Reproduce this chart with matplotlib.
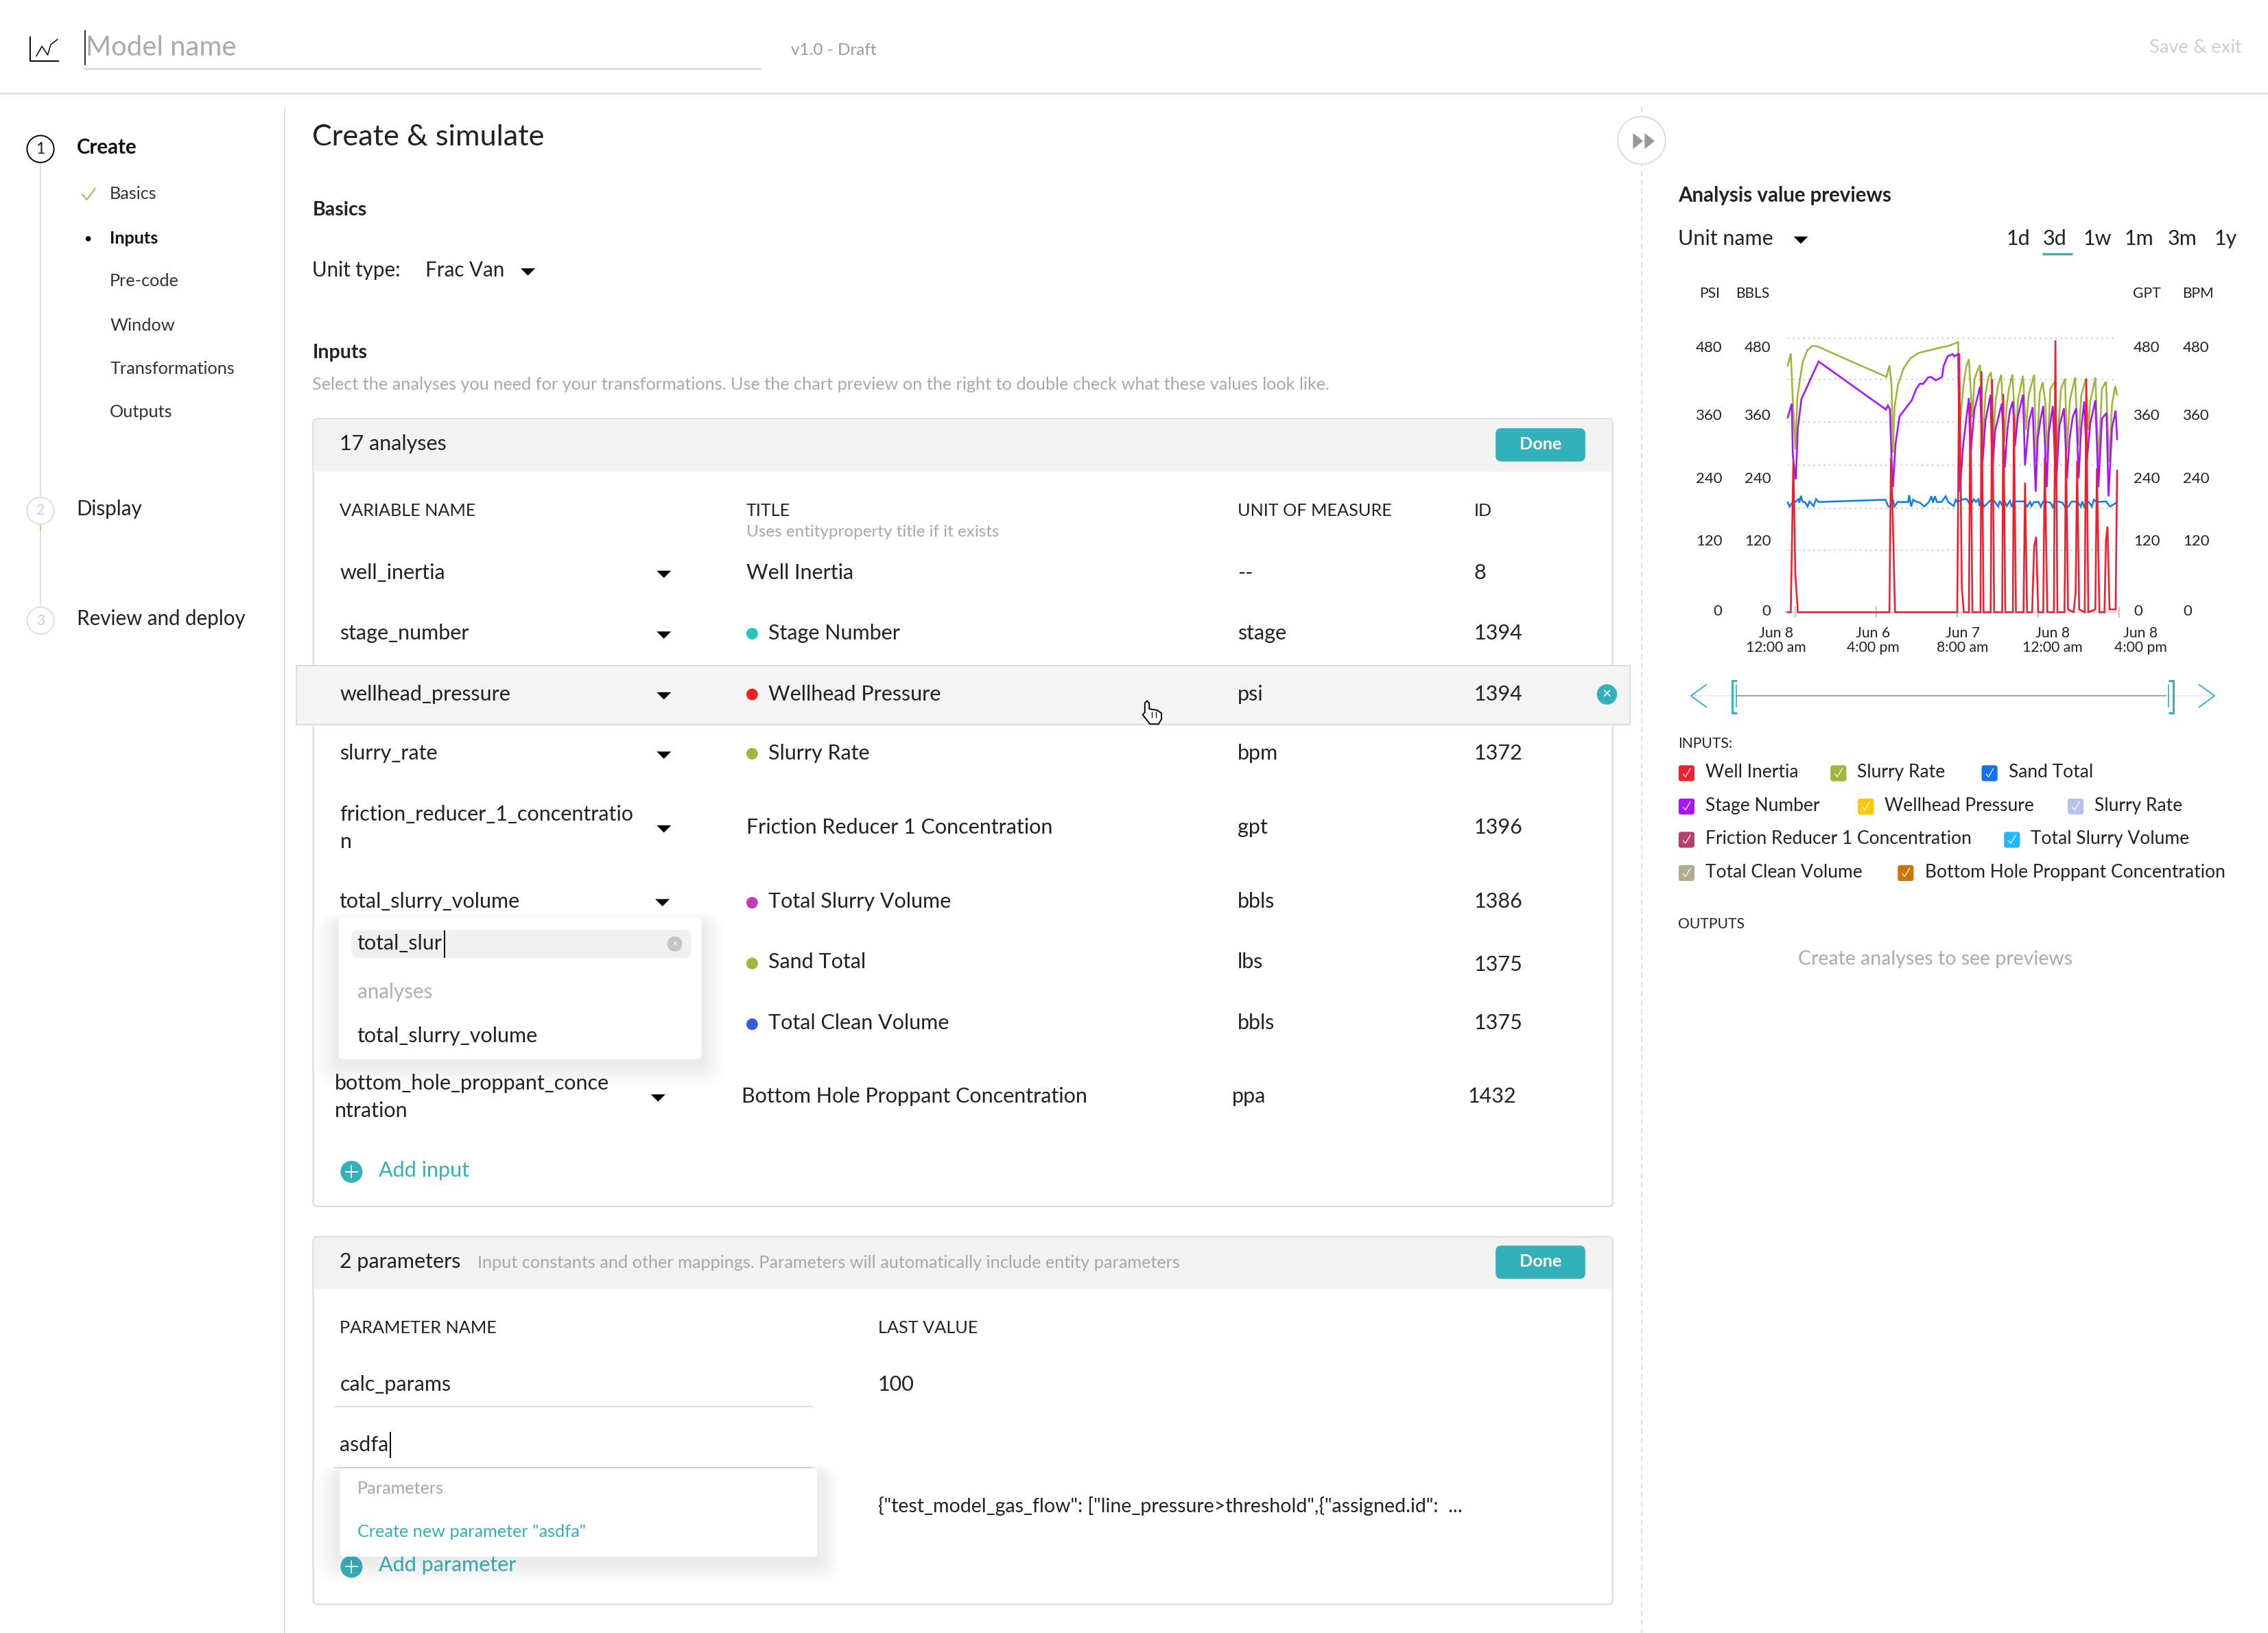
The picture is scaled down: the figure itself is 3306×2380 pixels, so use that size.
import matplotlib
matplotlib.use("Agg")
import matplotlib.pyplot as plt
from matplotlib.patches import FancyBboxPatch, Circle, Polygon, Rectangle
from matplotlib.transforms import Affine2D

plt.rcParams['font.family'] = ['Lato', 'DejaVu Sans']

# ---------- chart data (x = hours since first tick, y = chart units) ----------
slurry_h = [-1.5,-0.9,-0.6,0.0,0.4,0.9,1.5,2.4,3.3,4.2,18.0,18.6,19.0,19.3,19.6,20.3,21.4,22.8,24.4,28.0,30.2,32.2,
 32.4,33.2,33.8,34.3,35.0,35.4,35.9,36.5,37.0,37.6,38.2,38.7,39.1,39.6,40.0,40.7,41.3,41.8,42.2,42.9,43.6,44.0,44.5,45.0,
 45.6,46.1,47.2,47.6,48.3,48.9,49.4,49.8,50.4,51.3,51.7,52.5,53.3,53.7,54.3,55.3,55.9,56.5,57.4,57.9,58.3,59.3,59.9,60.6,
 61.4,62.0,62.6,63.2,63.6]
slurry_v = [432,453,391,285,375,407,439,459,466,466,412,432,399,279,359,399,427,445,454,462,466,473,
 311,395,431,443,341,407,421,433,297,383,413,420,301,371,395,416,299,363,391,416,307,371,393,414,
 319,379,416,263,383,403,367,271,391,404,283,391,409,287,373,411,291,379,409,319,369,411,259,391,
 404,263,363,396,381]

stage_h = [-1.5,-0.7,-0.5,0.0,0.1,0.5,1.2,4.6,17.9,18.3,18.7,19.0,19.3,19.8,20.6,23.0,23.9,24.6,25.3,26.2,26.8,27.8,29.0,29.3,30.1,31.1,31.4,32.2,
 32.5,33.2,33.8,34.3,34.6,35.4,36.5,37.0,37.6,38.6,38.9,39.5,40.8,41.4,41.9,42.4,43.0,43.4,44.0,45.0,45.4,46.2,46.9,47.5,47.9,48.4,49.0,49.7,
 50.1,50.9,51.5,52.2,53.1,53.7,54.2,54.8,55.5,56.0,56.5,57.1,57.6,58.3,59.3,59.9,60.6,61.5,61.9,62.6,63.3,63.6]
stage_v = [341,365,275,237,233,323,373,439,355,362,355,271,219,295,343,371,391,400,400,411,412,406,412,431,448,452,448,452,
 211,295,339,375,273,355,395,263,337,381,243,319,365,253,319,353,369,291,343,381,257,335,359,211,303,335,361,219,
 315,361,219,327,357,235,303,341,357,235,323,369,263,331,371,219,339,349,203,323,353,303]

sand_h = [-1.5,-1.1,-0.7,0.0,0.6,0.8,1.1,1.4,2.0,2.4,2.8,3.6,4.1,4.6,17.8,18.4,18.7,19.3,19.6,20.2,22.3,22.5,22.9,23.3,24.0,24.6,25.5,26.4,26.9,27.2,27.6,28.0,28.9,29.7,30.2,31.3,31.7,
 32.0,33.2,33.9,34.3,34.6,35.3,35.7,36.2,36.4,36.8,37.3,38.6,39.3,40.1,40.4,41.0,41.3,41.8,42.4,42.8,43.1,45.2,45.8,46.4,46.7,47.2,48.1,48.5,49.0,49.7,50.4,50.9,51.3,51.9,52.8,53.3,54.0,54.6,55.8,56.4,56.7,57.1,57.6,58.0,58.6,59.0,59.6,61.4,62.2,63.5]
sand_v = [192,185,191,193,198,192,204,194,192,185,194,186,198,193,197,185,185,197,185,193,193,205,185,197,193,192,185,193,203,192,203,193,193,203,193,186,197,
 193,198,198,192,187,198,193,198,186,197,185,196,195,185,195,185,195,186,195,184,194,194,185,193,186,193,193,185,194,193,192,184,194,194,192,184,185,194,193,185,194,185,193,193,185,197,193,194,185,192]

inertia_h = [-1.5,-0.9,-0.4,0.0,0.5,18.6,18.9,19.2,19.7,32.0,32.4,32.9,33.3,34.3,34.6,35.0,36.6,36.8,37.2,38.6,38.9,39.3,40.9,41.1,41.5,43.0,43.2,43.6,45.1,45.4,45.8,46.8,47.2,47.6,48.0,
 49.0,49.3,49.8,51.1,51.4,51.8,53.2,53.5,53.9,55.0,55.4,55.7,56.1,57.2,57.5,57.9,59.3,59.6,60.1,61.1,61.4,61.7,62.1,63.3,63.6]
inertia_v = [0,0,265,67,0,0,271,187,0,0,453,45,0,0,367,0,0,422,0,0,408,0,0,382,0,0,347,0,0,227,0,0,115,132,0,
 0,271,0,0,476,0,0,290,5,0,35,265,5,0,409,0,5,252,0,0,127,150,5,5,248]

grid_values = [108,182,257,333,408,480]
y_ticks = [0,120,240,360,480]
x_ticks = [0,16,32,48,64]
x_labels = ["Jun 8\n12:00 am","Jun 6\n4:00 pm","Jun 7\n8:00 am","Jun 8\n12:00 am","Jun 8\n4:00 pm"]

# ---------- UI text ----------
steps = ["Basics","Inputs","Pre-code","Window","Transformations","Outputs"]
columns = ["VARIABLE NAME","TITLE","UNIT OF MEASURE","ID"]
rows = [("well_inertia","Well Inertia","--","8",None),
        ("stage_number","Stage Number","stage","1394","#1fc8b8"),
        ("wellhead_pressure","Wellhead Pressure","psi","1394","#ee2222"),
        ("slurry_rate","Slurry Rate","bpm","1372","#a2b53a")]
legend_rows = [[("Well Inertia","#f0202e"),("Slurry Rate","#a2b53a"),("Sand Total","#1272f0")],
               [("Stage Number","#a614ff"),("Wellhead Pressure","#ffc800"),("Slurry Rate","#b8c0ee")],
               [("Friction Reducer 1 Concentration","#b8406f"),("Total Slurry Volume","#1fb6ff")],
               [("Total Clean Volume","#b0ad90"),("Bottom Hole Proppant Concentration","#cf7208")]]
ranges = ["1d","3d","1w","1m","3m","1y"]

TEAL = "#33b1ba"; DARK = "#222222"; GRAY = "#a8a8a8"; LINE = "#dddddd"
W, H = 3306, 2380
S = W / 1568
F = S * 0.72

fig = plt.figure(figsize=(W/100, H/100), dpi=100, facecolor="white")
ui = fig.add_axes([0,0,1,1])
ui.set_xlim(0, W/S); ui.set_ylim(H/S, 0); ui.axis("off")

def T(x, y, s, size=14, color=DARK, ha="left", weight="normal", z=5, **k):
    return ui.text(x, y, s, fontsize=size*F, color=color, ha=ha, va="center", weight=weight, zorder=z, **k)
def L(xs, ys, color=LINE, lw=1.0, z=2, **k):
    ui.plot(xs, ys, color=color, lw=lw*F, zorder=z, solid_capstyle="butt", **k)
def box(x0, y0, x1, y1, fc="white", ec="none", r=3, lw=1.0, z=1, alpha=None):
    ui.add_patch(FancyBboxPatch((x0,y0), x1-x0, y1-y0, boxstyle=f"round,pad=0,rounding_size={r}",
                                fc=fc, ec=ec, lw=lw*F, zorder=z, alpha=alpha))
def tri(x, y, w=5, h=5):
    ui.add_patch(Polygon([(x-w,y-h/2),(x+w,y-h/2),(x,y+h/2)], fc="black", ec="none", zorder=5))
def dot(x, y, c, r=4):
    ui.add_patch(Circle((x,y), r, fc=c, ec="none", zorder=5))
def shadow(x0, y0, x1, y1, z):
    for i in range(10, 0, -1):
        box(x0-i*1.6, y0-i*0.6+3, x1+i*1.6, y1+i*1.6+3, fc="#60607a", r=6+i, alpha=0.012, z=z)
    box(x0, y0, x1, y1, fc="white", r=3, z=z+0.1)

# header
L([21,21,41],[25,42,42],"black",0.9)
L([25,29,33,35,40],[40,33,38,31,28] if False else [39,32,38,31,27],"black",0.7)
L([59,59],[21,45],"#333333",1.0)
T(59.5,33,"Model name",19,color="#aaaaaa")
L([58,526],[47.5,47.5],"#dddddd",1.5)
T(547,35,"v1.0 - Draft",11.5,color="#9a9a9a")
T(1550,33,"Save & exit",13,color="#cfcfcf",ha="right")
L([0,1568],[64.5,64.5],"#e2e2e2",1.4)

# sidebar
L([197,197],[74,1129],"#e0e0e0",0.9)
L([28,28],[113,343],"#dcdcdc",0.8); L([28,28],[362,419],"#dcdcdc",0.8)
L([28,28],[362,367],"#e0c040",0.8,z=3)
ui.add_patch(Circle((28,103),9.3,fc="white",ec="black",lw=0.9*F,zorder=4))
T(28,103,"1",11,ha="center")
T(53,102,"Create",14,weight="bold",color="#111111")
ys = [134,165,194,225,255,285]
for s,y in zip(steps,ys):
    T(76,y,s,12,weight="bold" if s=="Inputs" else "normal",color="#111111" if s=="Inputs" else "#333333")
L([56.5,60,66],[134,138,130],"#a2b53a",0.9)
dot(61,165,"black",1.8)
for y,n,lab in [(353,"2","Display"),(429,"3","Review and deploy")]:
    ui.add_patch(Circle((28,y),9.3,fc="white",ec="#dddddd",lw=0.9*F,zorder=4))
    T(28,y,n,10,color="#cccccc",ha="center")
    T(53,y-1,lab,14)

# main heading
T(216,95,"Create & simulate",20.5,color="#222222")
T(216,145,"Basics",13.5,weight="bold",color="#222222")
T(216,187,"Unit type:",14); T(294,187,"Frac Van",14); tri(365,188)
T(216,244,"Inputs",13.5,weight="bold",color="#222222")
T(216,266,"Select the analyses you need for your transformations. Use the chart preview on the right to double check what these values look like.",12,color=GRAY)

# card 1
box(216.5,289.5,1115,834,fc="white",ec=LINE,lw=1.1,r=3,z=1)
box(217,290,1114.5,326,fc="#f2f2f2",r=2,z=1.1)
T(235,307,"17 analyses",14.5)
box(1034,296,1096,319,fc=TEAL,r=4,z=3); T(1065,307,"Done",12,color="white",ha="center",weight="bold")
for x,s in zip([235,516,855.5,1019],columns):
    T(x,353,s,12)
T(516,368,"Uses entityproperty title if it exists",11.5,color=GRAY)

ui.add_patch(Rectangle((205,460),922,41,fc="#f3f3f3",ec="#dcdcdc",lw=0.9*F,zorder=1.5))
for (v,t,u,i,c),y in zip(rows,[396,438,480,521]):
    T(235,y,v,14.5); tri(459,y+1)
    if c:
        dot(520,y,c); T(531,y,t,14.5)
    else:
        T(516,y,t,14.5)
    T(855.5,y,u,14.5); T(1019,y,i,14.5)
ui.add_patch(Circle((1111,480),7,fc=TEAL,ec="none",zorder=5))
T(1111,480,"×",11,color="white",ha="center")

T(235,563,"friction_reducer_1_concentratio",14.5); T(235,582,"n",14.5); tri(459,573)
T(516,572,"Friction Reducer 1 Concentration",14.5); T(855.5,572,"gpt",14.5); T(1019,572,"1396",14.5)
T(234.5,623,"total_slurry_volume",14.5); tri(458,624)
dot(520,624,"#c03cb8"); T(531,623,"Total Slurry Volume",14.5); T(855.5,623,"bbls",14.5); T(1019,623,"1386",14.5)
dot(520,666,"#a2b53a"); T(531,665,"Sand Total",14.5); T(855.5,665,"lbs",14.5); T(1019,667,"1375",14.5)
dot(520,708,"#3a5ad8"); T(531,707,"Total Clean Volume",14.5); T(855.5,707,"bbls",14.5); T(1019,707,"1375",14.5)
T(231.5,749,"bottom_hole_proppant_conce",14.5); T(231.5,768,"ntration",14.5); tri(455,759)
T(512.5,758,"Bottom Hole Proppant Concentration",14.5); T(852,758,"ppa",14.5); T(1015,758,"1432",14.5)

shadow(234,634,485,732,z=6)
box(243,643,478,662,fc="#f0f0f0",r=4,z=6.5)
T(247,652,"total_slur",14.5,z=7)
L([307.5,307.5],[643,662],"black",0.9,z=7)
ui.add_patch(Circle((466.5,652.5),5.2,fc="#c4c4c4",ec="none",zorder=7))
T(466.5,652.5,"×",7,color="white",ha="center",z=8)
T(247,686,"analyses",14,color="#b0b0b0",z=7)
T(247,716,"total_slurry_volume",14.5,z=7)

def plus(y, label):
    ui.add_patch(Circle((243,y),7.6,fc=TEAL,ec="none",zorder=5))
    L([238.5,247.5],[y,y],"white",0.9,z=6); L([243,243],[y-4.5,y+4.5],"white",0.9,z=6)
    T(262,y-1,label,14.5,color=TEAL)
plus(810,"Add input")

# card 2
box(216.5,855,1115,1109,fc="white",ec=LINE,lw=1.1,r=3,z=1)
box(217,855.5,1114.5,891,fc="#f2f2f2",r=2,z=1.1)
T(235,872,"2 parameters",14.5)
T(330,873,"Input constants and other mappings. Parameters will automatically include entity parameters",12,color=GRAY)
box(1034,861,1096,884,fc=TEAL,r=4,z=3); T(1065,872,"Done",12,color="white",ha="center",weight="bold")
T(235,918,"PARAMETER NAME",12); T(607,918,"LAST VALUE",12)
T(235,957,"calc_params",14.5); T(607,957,"100",14.5); L([231,562],[972.5,972.5],"#dddddd",0.9)
T(235,999,"asdfa",14.5); L([270,270],[990,1008],"black",0.9); L([231,562],[1014.5,1014.5],"#dddddd",0.9)
plus(1083,"Add parameter")
shadow(235,1015,565,1076,z=6)
T(247,1029,"Parameters",12,color=GRAY,z=7)
T(247,1059,"Create new parameter \"asdfa\"",12,color=TEAL,z=7)
T(607,1041,"{\"test_model_gas_flow\": [\"line_pressure>threshold\",{\"assigned.id\":  ...",13.5)

# pointer
hand = [(791.5,486),(793,484.5),(794.5,486),(794.5,490),(800,491),(803,493),(803,497),(801,500.5),(795,500.5),(790,494),(791.5,492.5)]
ui.add_patch(Polygon(hand,fc="white",ec="black",lw=0.9*F,zorder=9))
for x in (796.5,799):
    L([x,x],[492,496],"black",0.6,z=10)

# right panel
L([1135,1135],[74,1129],"#dddddd",0.9,z=1,linestyle=(0,(4,3)))
ui.add_patch(Circle((1135,97),16.5,fc="white",ec="#dddddd",lw=1.0*F,zorder=3))
for x in (1129,1137):
    ui.add_patch(Polygon([(x,92),(x+7,97.5),(x,103)],fc="#999999",ec="none",zorder=4))
T(1160,135,"Analysis value previews",14,weight="bold",color="#222222")
T(1160,165,"Unit name",14.5); tri(1245,166)
for x,s in zip([1387,1412.5,1440,1468.5,1498.5,1531],ranges):
    T(x,165,s,14.5)
L([1412,1433],[175.5,175.5],TEAL,1.6)
for x,s in zip([1175,1200,1474.5,1509],["PSI","BBLS","GPT","BPM"]):
    T(x,203,s,10)

# slider
L([1172,1530],[481,481],"#eeeeee",0.9)
L([1200,1498],[481,481],"#a5a5a5",1.0,z=3)
L([1180,1169,1180],[473,481,489],TEAL,0.9,solid_joinstyle="miter")
L([1520,1531,1520],[473,481,489],TEAL,0.9,solid_joinstyle="miter")
L([1201,1197.5,1197.5,1201],[470.5,470.5,493,493],TEAL,1.4,z=4,solid_joinstyle="miter")
L([1499,1502.5,1502.5,1499],[470.5,470.5,493,493],TEAL,1.4,z=4,solid_joinstyle="miter")
L([1200.5,1200.5],[473.5,489],TEAL,0.8,z=4); L([1499,1499],[473.5,489],TEAL,0.8,z=4)

# legend
T(1160,514,"INPUTS:",10)
layout = [[(1166,1179),(1271,1284),(1375.5,1388.5)],[(1166,1179),(1290,1303),(1435,1448)],
          [(1166,1179),(1391,1404)],[(1166,1179),(1317.5,1331)]]
for row,pos,y in zip(legend_rows,layout,[534,557,580,603]):
    for (s,c),(bx,tx) in zip(row,pos):
        box(bx-5.5,y-5,bx+5.5,y+6,fc=c,r=1.8,z=3)
        L([bx-2.5,bx-0.8,bx+2.8],[y+0.8,y+3,y-3],"white",0.6,z=4)
        T(tx,y,s,12.5)
T(1160,639,"OUTPUTS",10)
T(1338,663,"Create analyses to see previews",13.5,color="#aaaaaa",ha="center")

# ---------- chart ----------
px_left, px_right, px_base = 2602, 3089, 892.3
per_unit, per_hour = 0.8325, 7.375
ax = fig.add_axes([px_left/W, (H-px_base)/H, (px_right-px_left)/W, 500*per_unit/H], facecolor="none", zorder=3)
ax.set_xlim((px_left-2617)/per_hour, (px_right-2617)/per_hour)
ax.set_ylim(0, 500)
for s in ("top","left","right"):
    ax.spines[s].set_visible(False)
ax.spines["bottom"].set_color("#d8d8d8"); ax.spines["bottom"].set_linewidth(2.4*0.72)
ax.hlines(grid_values, -1.5, 63.2, colors="#c8c8c8", lw=1.5, linestyles=[(0,(1,2.6))], zorder=1)

lw = 2.6*0.72
ax.plot(slurry_h, slurry_v, color="#a2b53a", lw=lw, zorder=2, label="Slurry Rate", solid_joinstyle="miter")
ax.plot(stage_h, stage_v, color="#a614ff", lw=lw, zorder=3, label="Stage Number", solid_joinstyle="miter")
ax.plot(sand_h, sand_v, color="#0f80f0", lw=lw, zorder=4, label="Sand Total", solid_joinstyle="miter")
ax.plot(inertia_h, inertia_v, color="#ee2030", lw=lw, zorder=5, clip_on=False, label="Well Inertia", solid_joinstyle="miter")

ax.set_xticks(x_ticks, x_labels)
ax.set_yticks([])
ax.tick_params(axis="x", direction="inout", length=12, width=1.7, color="#c8c8c8", pad=9,
               labelsize=10*F, labelcolor=DARK)
for lab,dx in zip(ax.get_xticklabels(),[-28,-5,8,21,31]):
    lab.set_linespacing(1.05)
    lab.set_transform(lab.get_transform()+Affine2D().translate(dx,0))

y_off = [3,5,-4,-11,-12]
for loc in (-0.188,-0.042,1.043,1.191):
    sec = ax.secondary_yaxis(loc)
    sec.spines[:].set_visible(False)
    sec.set_yticks(y_ticks, [str(v) for v in y_ticks])
    sec.tick_params(length=0, pad=0, labelsize=10.5*F, labelcolor=DARK)
    for lab,dy in zip(sec.get_yticklabels(),y_off):
        lab.set_transform(lab.get_transform()+Affine2D().translate(0,dy))

fig.savefig("out.png", dpi=100, facecolor="white")
